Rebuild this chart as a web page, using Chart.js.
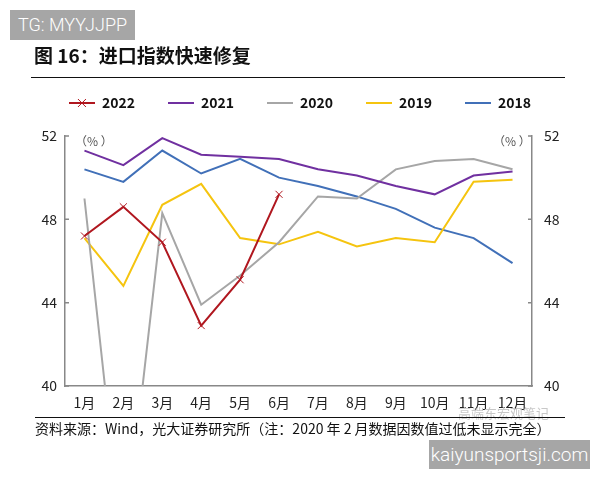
<!DOCTYPE html>
<html>
<head>
<meta charset="utf-8">
<script src="https://cdn.jsdelivr.net/npm/chart.js@4"></script>
<style>
  body { margin: 0; background: #fff; }
  #wrap { position: relative; width: 600px; height: 480px; background: #fff; overflow: hidden;
          font-family: "Noto Sans CJK SC", "Noto Sans", sans-serif; }
  #c { position: absolute; left: 0; top: 0; }
  .abs { position: absolute; white-space: nowrap; }
  .mark { background: #a6a6a6; color: #fff; font-family: Roboto, "Liberation Sans", sans-serif; font-weight: 300; }
</style>
</head>
<body>
<div id="wrap">
  <canvas id="c" width="600" height="480"></canvas>
  <div class="abs mark" style="left:10px;top:10px;width:125px;height:30px;line-height:30px;font-size:18px;text-align:center;">TG: MYYJJPP</div>
  <div class="abs" style="left:34px;top:41px;font-size:19px;font-weight:bold;color:#111;">图 16：进口指数快速修复</div>
  <div class="abs" style="left:31px;top:77px;width:534px;height:0;border-top:1.5px solid #111;"></div>
  <div class="abs" style="left:75px;top:132px;font-size:12px;color:#555;">（%&nbsp;）</div>
  <div class="abs" style="left:493px;top:132px;font-size:12px;color:#555;">（%&nbsp;）</div>
  <div class="abs" style="left:458px;top:403px;font-size:13px;color:#c8c8c8;">高端东宏观笔记</div>
  <div class="abs" style="left:35px;top:417px;width:530px;height:0;border-top:1.5px solid #111;"></div>
  <div class="abs" style="left:35px;top:418px;font-size:14px;color:#111;">资料来源：Wind，光大证券研究所（注：2020 年 2 月数据因数值过低未显示完全）</div>
  <div class="abs mark" style="left:429px;top:440px;width:161px;height:29px;line-height:29px;font-size:19px;text-align:center;">kaiyunsportsji.com</div>
</div>
<script>
const months = ["1月", "2月", "3月", "4月", "5月", "6月", "7月", "8月", "9月", "10月", "11月", "12月"];
const seriesNames = ["2022", "2021", "2020", "2019", "2018"];
const v2022 = [47.2, 48.6, 46.9, 42.9, 45.1, 49.2];
const v2021 = [51.3, 50.6, 51.9, 51.1, 51.0, 50.9, 50.4, 50.1, 49.6, 49.2, 50.1, 50.3];
const v2020 = [49.0, 31.9, 48.3, 43.9, 45.3, 46.9, 49.1, 49.0, 50.4, 50.8, 50.9, 50.4];
const v2019 = [47.1, 44.8, 48.7, 49.7, 47.1, 46.8, 47.4, 46.7, 47.1, 46.9, 49.8, 49.9];
const v2018 = [50.4, 49.8, 51.3, 50.2, 50.9, 50.0, 49.6, 49.1, 48.5, 47.6, 47.1, 45.9];
const yTicks = [40, 44, 48, 52];

const colors = ["#b0171f", "#7030a0", "#a6a6a6", "#f5c40f", "#4170b8"];
const values = [v2022, v2021, v2020, v2019, v2018];

// legend swatch: short line, with a cross for 2022
function swatch(color, cross) {
    const cv = document.createElement("canvas");
    cv.width = 26;
    cv.height = 12;
    const g = cv.getContext("2d");
    g.strokeStyle = color;
    g.lineWidth = 2;
    g.beginPath();
    g.moveTo(0, 6);
    g.lineTo(26, 6);
    g.stroke();
    if (cross) {
        g.lineWidth = 1;
        g.beginPath();
        g.moveTo(9, 2); g.lineTo(17, 10);
        g.moveTo(17, 2); g.lineTo(9, 10);
        g.stroke();
    }
    return cv;
}

const datasets = seriesNames.map((name, i) => ({
    label: name,
    data: values[i],
    borderColor: colors[i],
    backgroundColor: colors[i],
    borderWidth: 2,
    tension: 0,
    pointStyle: i === 0 ? "crossRot" : "circle",
    pointRadius: i === 0 ? 5 : 0,
    pointBorderWidth: 1,
    pointBorderColor: colors[i],
    yAxisID: "y"
}));

// small inward tick marks on both value axes
const innerTicks = {
    id: "innerTicks",
    afterDraw(chart) {
        const ctx = chart.ctx;
        const area = chart.chartArea;
        const y = chart.scales.y;
        ctx.save();
        ctx.strokeStyle = "#888";
        ctx.lineWidth = 1.5;
        yTicks.forEach(t => {
            const py = y.getPixelForValue(t);
            ctx.beginPath();
            ctx.moveTo(area.left, py);
            ctx.lineTo(area.left + 4, py);
            ctx.moveTo(area.right, py);
            ctx.lineTo(area.right - 4, py);
            ctx.stroke();
        });
        ctx.restore();
    }
};

const legendHeight = {
    id: "legendHeight",
    beforeInit(chart) {
        const fit = chart.legend.fit;
        chart.legend.fit = function () {
            fit.call(this);
            this.height = 136 - 63;
        };
    }
};

const tickFont = { family: "'Noto Sans CJK SC', 'Noto Sans', sans-serif", size: 14 };

new Chart(document.getElementById("c"), {
    type: "line",
    data: { labels: months, datasets: datasets },
    options: {
        responsive: false,
        animation: false,
        devicePixelRatio: 1,
        layout: { padding: { top: 63, left: 0, right: 0, bottom: 0 } },
        plugins: {
            tooltip: { enabled: false },
            legend: {
                position: "top",
                align: "center",
                labels: {
                    usePointStyle: true,
                    pointStyleWidth: 26,
                    padding: 33,
                    color: "#111",
                    font: { family: "'Noto Sans CJK SC', 'Noto Sans', sans-serif", size: 14, weight: "bold" },
                    generateLabels(chart) {
                        return chart.data.datasets.map((ds, i) => ({
                            text: ds.label,
                            pointStyle: swatch(ds.borderColor, i === 0),
                            fillStyle: ds.borderColor,
                            strokeStyle: ds.borderColor,
                            lineWidth: 0,
                            hidden: false,
                            datasetIndex: i,
                            fontColor: "#111"
                        }));
                    }
                }
            }
        },
        scales: {
            x: {
                type: "category",
                offset: true,
                grid: { display: false, drawTicks: false },
                border: { color: "#888", width: 1.5 },
                ticks: { color: "#222", font: tickFont, padding: 8, maxRotation: 0, autoSkip: false },
                afterFit(s) { s.height = 480 - 386; }
            },
            y: {
                position: "left",
                min: 40,
                max: 52,
                afterBuildTicks(s) { s.ticks = yTicks.map(v => ({ value: v })); },
                grid: { display: false, drawTicks: false },
                border: { color: "#888", width: 1.5 },
                ticks: { color: "#222", font: tickFont, padding: 8 },
                afterFit(s) { s.width = 65; }
            },
            y2: {
                position: "right",
                min: 40,
                max: 52,
                afterBuildTicks(s) { s.ticks = yTicks.map(v => ({ value: v })); },
                grid: { display: false, drawTicks: false },
                border: { color: "#888", width: 1.5 },
                ticks: { color: "#222", font: tickFont, padding: 12 },
                afterFit(s) { s.width = 600 - 532; }
            }
        }
    },
    plugins: [innerTicks, legendHeight]
});
</script>
</body>
</html>
